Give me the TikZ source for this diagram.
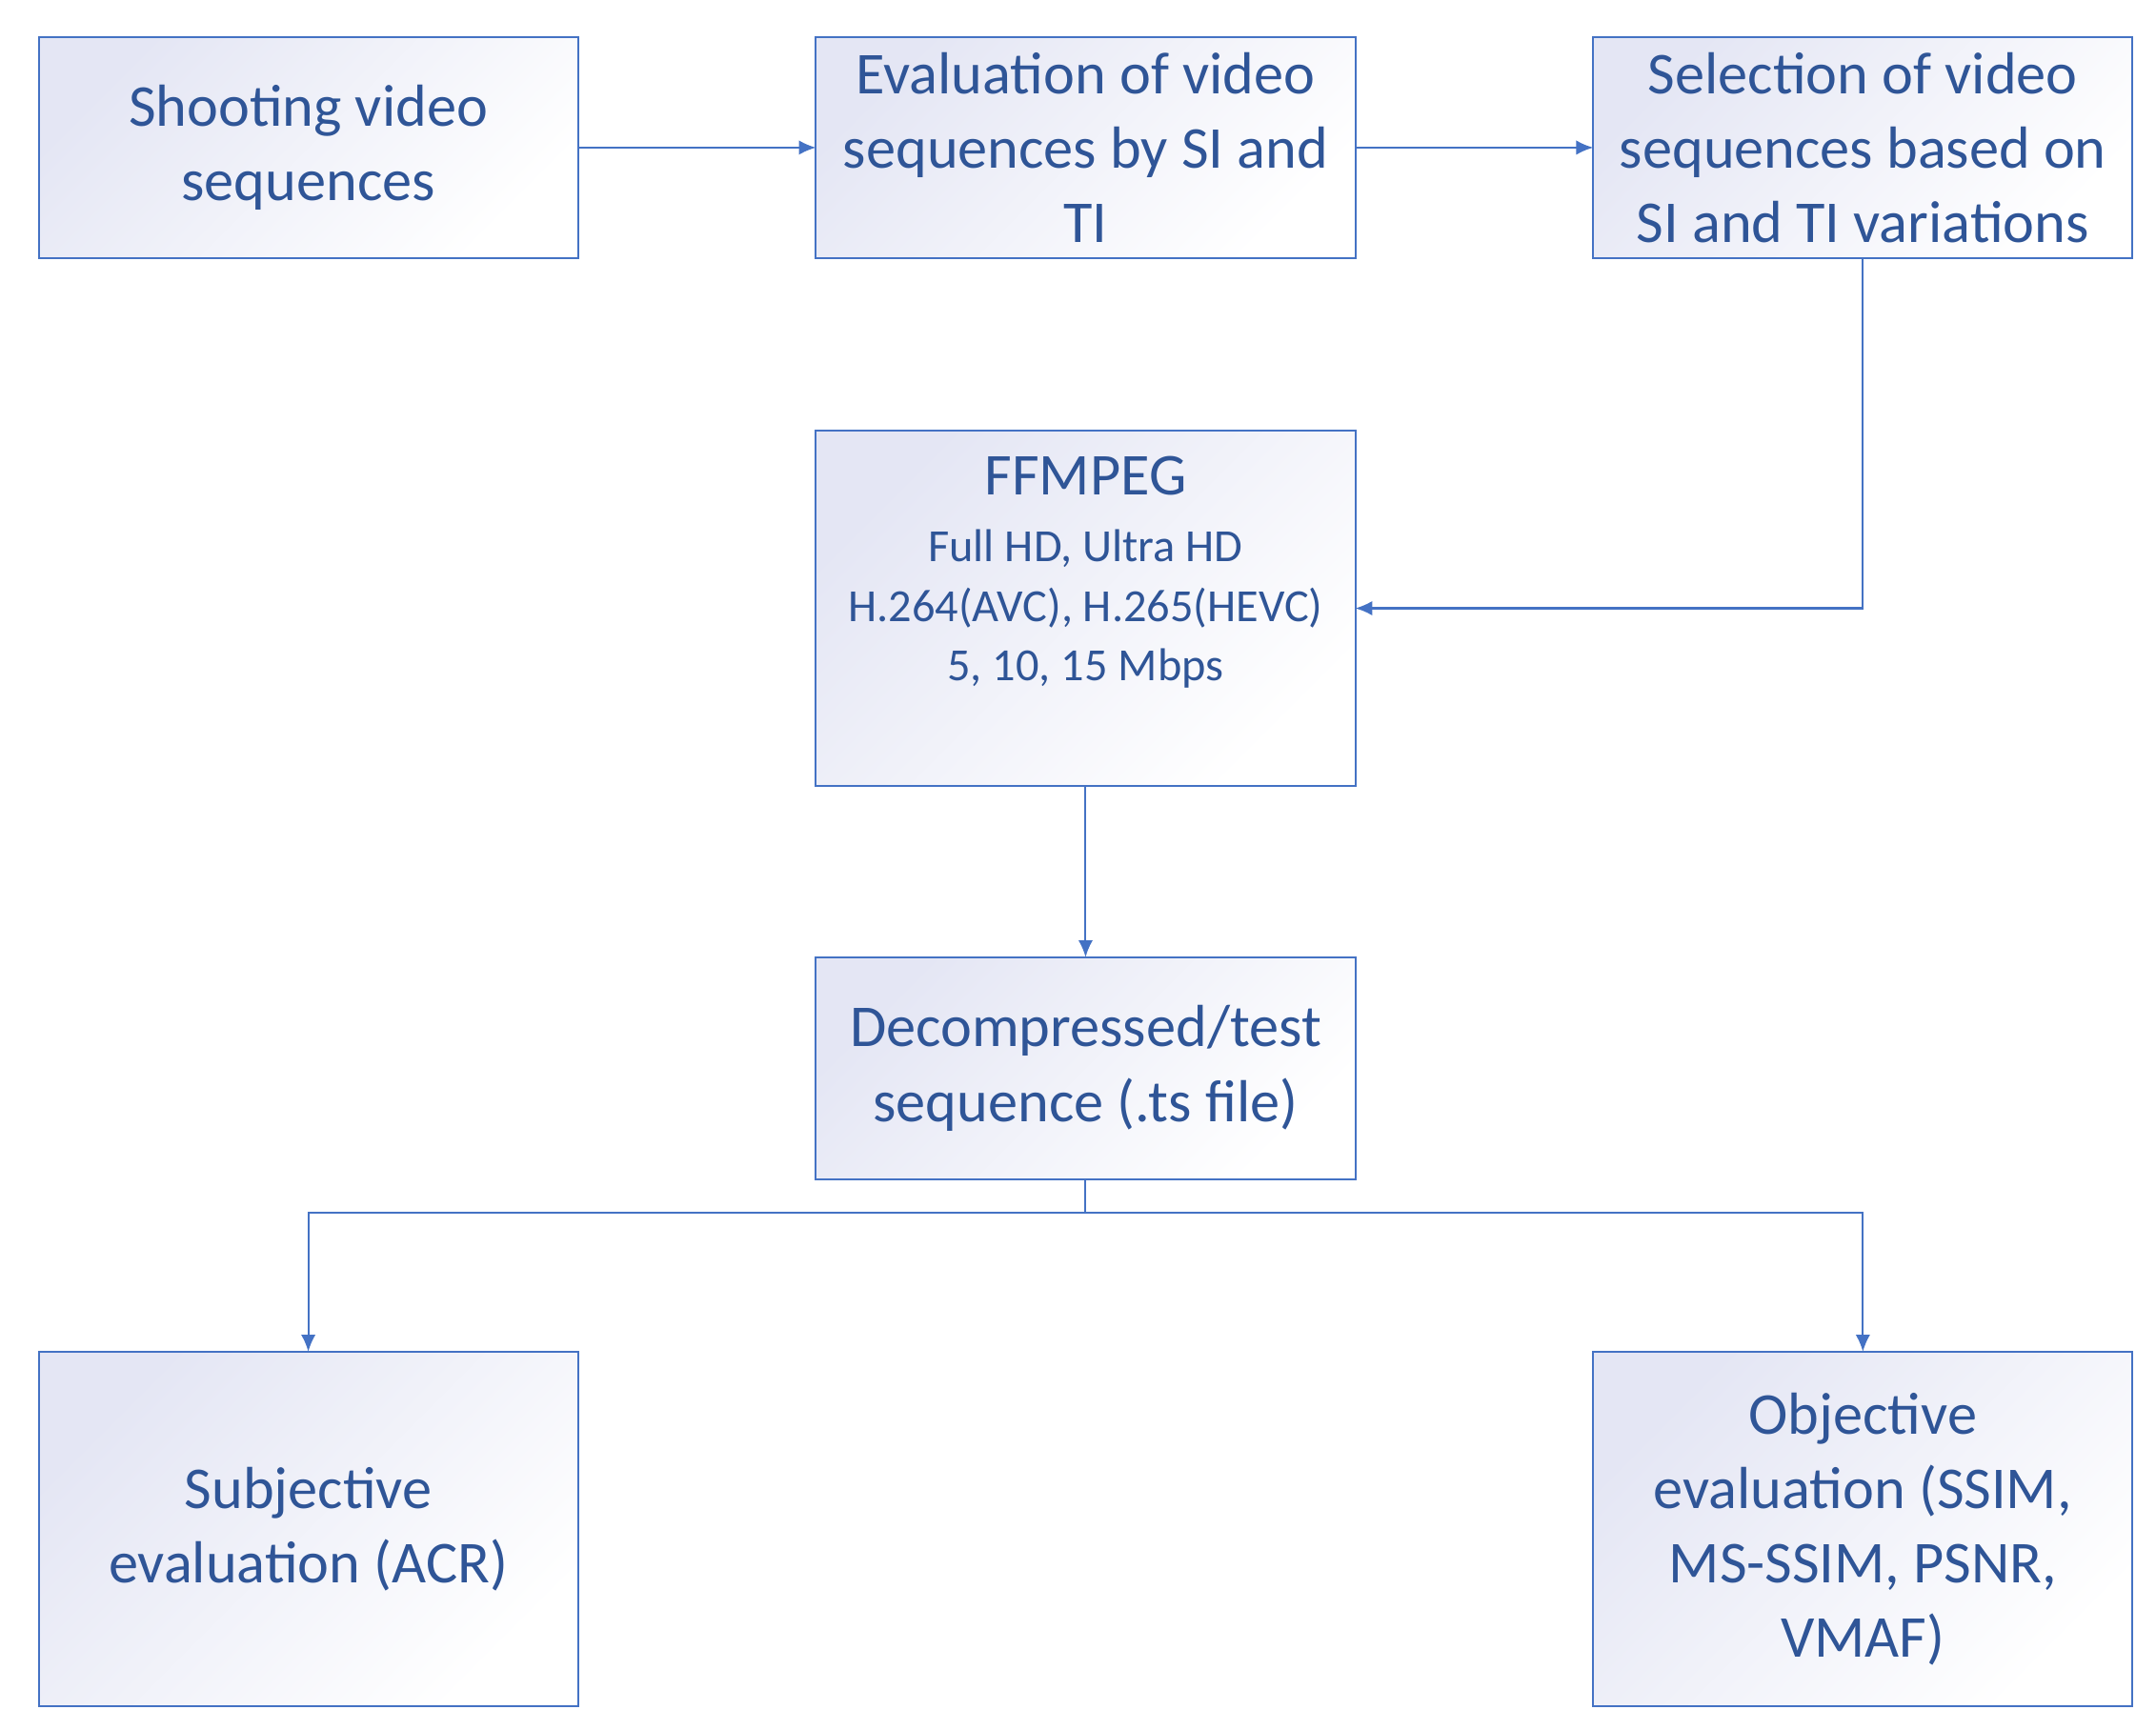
\documentclass[tikz,border=0pt]{standalone}
\usepackage{fontspec}
\setmainfont{Carlito}
\usetikzlibrary{arrows.meta}
\definecolor{bd}{HTML}{4472C4}
\definecolor{tx}{HTML}{2F5597}
\definecolor{lav}{HTML}{E4E6F4}
\begin{document}
\begin{tikzpicture}[x=0.02cm,y=-0.02cm,
 box/.style={draw=bd,line width=0.8pt,left color=lav,right color=white,shading angle=45,
   minimum width=391*0.02cm,inner sep=0pt,outer sep=0pt},
 big/.style={text=tx,font=\fontsize{24.5}{30.7}\selectfont,align=center},
 small/.style={text=tx,font=\fontsize{19}{24.5}\selectfont,align=center},
 arr/.style={draw=bd,line width=0.8pt,-{Latex[length=7pt,width=6pt]}},
 ln/.style={draw=bd,line width=0.8pt}]
\useasboundingbox (0,0) rectangle (1563,1254);
\node[box,minimum height=160*0.02cm] (A) at (223.5,107) {};
\node[box,minimum height=160*0.02cm] (B) at (787,107) {};
\node[box,minimum height=160*0.02cm] (C) at (1350.5,107) {};
\node[box,minimum height=258*0.02cm] (D) at (787,441) {};
\node[box,minimum height=161*0.02cm] (E) at (787,774.5) {};
\node[box,minimum height=257*0.02cm] (F) at (223.5,1108.5) {};
\node[box,minimum height=257*0.02cm] (G) at (1350.5,1108.5) {};
\node[big] (At) at (A) {Shooting video\\sequences};
\node[big] (Bt) at (B) {Evaluation of video\\sequences by SI and\\TI};
\node[big] (Ct) at (C) {Selection of video\\sequences based on\\SI and TI variations};
\node[big,anchor=north] (Dt) at (787,325) {FFMPEG};
\node[small,anchor=north] (Ds) at (787,378) {Full HD, Ultra HD\\H.264(AVC), H.265(HEVC)\\5, 10, 15 Mbps};
\node[big] (Et) at (E) {Decompressed/test\\sequence (.ts file)};
\node[big] (Ft) at (F) {Subjective\\evaluation (ACR)};
\node[big] (Gt) at (G) {Objective\\evaluation (SSIM,\\MS-SSIM, PSNR,\\VMAF)};
\draw[arr] (A) -- (B);
\draw[arr] (B) -- (C);
\draw[arr] (C.south) |- (D.east);
\draw[arr] (D) -- (E);
\coordinate (J) at (787,879);
\draw[ln] (E.south) -- (J);
\draw[arr] (J) -| (F.north);
\draw[arr] (J) -| (G.north);
\end{tikzpicture}
\end{document}
